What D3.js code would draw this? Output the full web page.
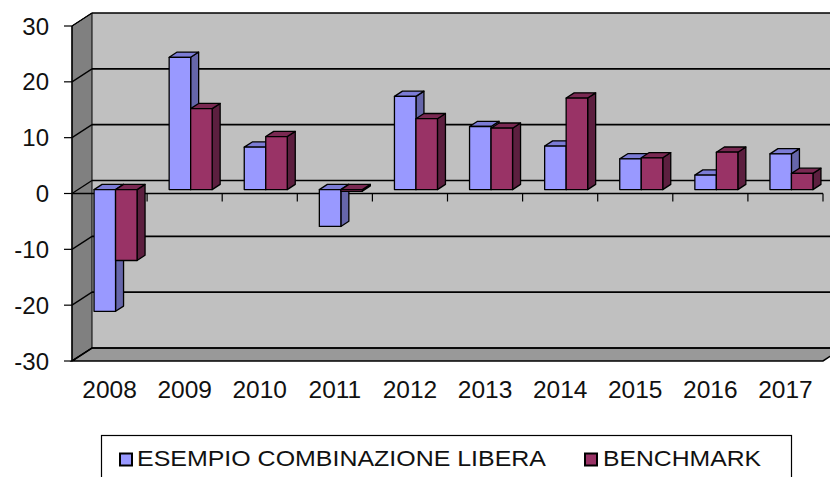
<!DOCTYPE html>
<html>
<head>
<meta charset="utf-8">
<script src="https://cdn.jsdelivr.net/npm/d3@7"></script>
<style>
  body { margin: 0; background: #fff; }
  svg { display: block; font-family: "Liberation Sans", Arial, sans-serif; }
</style>
</head>
<body>
<svg id="chart" width="830" height="477"></svg>
<script>
// data
var years = ["2008", "2009", "2010", "2011", "2012", "2013", "2014", "2015", "2016", "2017"];
var seriesNames = ["ESEMPIO COMBINAZIONE LIBERA", "BENCHMARK"];
var esempio = [-21.8, 23.7, 7.6, -6.6, 16.7, 11.3, 7.8, 5.5, 2.6, 6.4];
var benchmark = [-12.7, 14.5, 9.5, -0.3, 12.7, 11.0, 16.4, 5.7, 6.7, 2.9];
var yTicks = [-30, -20, -10, 0, 10, 20, 30];

var faceColors = ["#9999ff", "#993366"];
var topColors = ["#7c7cd6", "#7a2952"];
var sideColors = ["#6666aa", "#5c1f3f"];

drawChart();

function drawChart() {
    var svg = d3.select("#chart");

    // 3d offsets
    var depthX = 20, depthY = -13;
    var barF0 = 0.3, barF1 = 0.7;

    var x = d3.scaleBand().domain(years).range([72, 823]);
    var y = d3.scaleLinear().domain([-30, 30]).range([361, 26]);
    var xs = d3.scaleBand().domain([0, 1]).range([-21.5, 21.5]);

    var plotLeft = 72, plotRight = 823;
    var plotTop = y(30), plotBottom = y(-30);

    // back wall
    svg.append("polygon")
        .attr("points", [[plotLeft + depthX, plotTop + depthY], [plotRight + depthX + 20, plotTop + depthY],
            [plotRight + depthX + 20, plotBottom + depthY], [plotLeft + depthX, plotBottom + depthY]].join(" "))
        .attr("fill", "#c0c0c0");

    // side wall
    svg.append("polygon")
        .attr("points", [[plotLeft, plotTop], [plotLeft + depthX, plotTop + depthY],
            [plotLeft + depthX, plotBottom + depthY], [plotLeft, plotBottom]].join(" "))
        .attr("fill", "#808080")
        .attr("stroke", "#000").attr("stroke-width", 1);

    // floor
    svg.append("polygon")
        .attr("points", [[plotLeft, plotBottom], [plotLeft + depthX, plotBottom + depthY],
            [plotRight + depthX, plotBottom + depthY], [plotRight, plotBottom]].join(" "))
        .attr("fill", "#999999")
        .attr("stroke", "#000").attr("stroke-width", 1.5);

    // gridlines on back wall + side wall diagonals
    yTicks.forEach(function (t) {
        svg.append("line")
            .attr("x1", plotLeft + depthX).attr("x2", 840)
            .attr("y1", y(t) + depthY).attr("y2", y(t) + depthY)
            .attr("stroke", "#000").attr("stroke-width", 1.6);
        svg.append("line")
            .attr("x1", plotLeft).attr("x2", plotLeft + depthX)
            .attr("y1", y(t)).attr("y2", y(t) + depthY)
            .attr("stroke", "#000").attr("stroke-width", 1.3);
    });

    // front zero line with category ticks
    svg.append("line")
        .attr("x1", plotLeft).attr("x2", plotRight)
        .attr("y1", y(0)).attr("y2", y(0))
        .attr("stroke", "#000").attr("stroke-width", 1.3);
    years.forEach(function (yr) {
        var bx = x(yr) + x.bandwidth();
        svg.append("line")
            .attr("x1", bx).attr("x2", bx)
            .attr("y1", y(0)).attr("y2", y(0) + 8)
            .attr("stroke", "#000").attr("stroke-width", 1.2);
    });

    // y axis
    svg.append("line")
        .attr("x1", plotLeft).attr("x2", plotLeft)
        .attr("y1", plotTop).attr("y2", plotBottom)
        .attr("stroke", "#000").attr("stroke-width", 1.3);
    yTicks.forEach(function (t) {
        svg.append("line")
            .attr("x1", plotLeft - 8).attr("x2", plotLeft)
            .attr("y1", y(t)).attr("y2", y(t))
            .attr("stroke", "#000").attr("stroke-width", 1.2);
        svg.append("text")
            .attr("x", 49).attr("y", y(t))
            .attr("dy", "0.36em")
            .attr("text-anchor", "end")
            .attr("font-size", 24)
            .attr("fill", "#111")
            .text(t);
    });

    // bars
    var bx0 = depthX * barF0, by0 = depthY * barF0;
    var ddx = depthX * (barF1 - barF0), ddy = depthY * (barF1 - barF0);
    var allSeries = [esempio, benchmark];

    years.forEach(function (yr, i) {
        var cx = x(yr) + x.bandwidth() / 2 + bx0;
        allSeries.forEach(function (vals, j) {
            var v = vals[i];
            var x0 = cx + xs(j), x1 = x0 + xs.bandwidth();
            var yt = y(Math.max(v, 0)) + by0, yb = y(Math.min(v, 0)) + by0;
            var g = svg.append("g").attr("stroke", "#000").attr("stroke-width", 1.3)
                .attr("stroke-linejoin", "round");
            // side
            g.append("polygon")
                .attr("points", [[x1, yt], [x1 + ddx, yt + ddy], [x1 + ddx, yb + ddy], [x1, yb]].join(" "))
                .attr("fill", sideColors[j]);
            // top
            g.append("polygon")
                .attr("points", [[x0, yt], [x0 + ddx, yt + ddy], [x1 + ddx, yt + ddy], [x1, yt]].join(" "))
                .attr("fill", topColors[j]);
            // front
            g.append("rect")
                .attr("x", x0).attr("y", yt)
                .attr("width", x1 - x0).attr("height", Math.max(yb - yt, 0.5))
                .attr("fill", faceColors[j]);
        });
    });

    // category labels
    years.forEach(function (yr) {
        svg.append("text")
            .attr("x", x(yr) + x.bandwidth() / 2)
            .attr("y", 398)
            .attr("text-anchor", "middle")
            .attr("font-size", 24.5)
            .attr("fill", "#111")
            .text(yr);
    });

    // legend
    svg.append("rect")
        .attr("x", 101.5).attr("y", 435.5)
        .attr("width", 690).attr("height", 60)
        .attr("fill", "#fff").attr("stroke", "#000").attr("stroke-width", 1.2);

    var legendPos = [{ sx: 120, tx: 137, len: 409 }, { sx: 585, tx: 603, len: 158 }];
    seriesNames.forEach(function (name, j) {
        svg.append("rect")
            .attr("x", legendPos[j].sx).attr("y", 453.5)
            .attr("width", 12).attr("height", 12)
            .attr("fill", faceColors[j])
            .attr("stroke", "#000").attr("stroke-width", 2);
        svg.append("text")
            .attr("x", legendPos[j].tx).attr("y", 466)
            .attr("font-size", 22)
            .attr("textLength", legendPos[j].len)
            .attr("lengthAdjust", "spacingAndGlyphs")
            .attr("fill", "#111")
            .text(name);
    });
}
</script>
</body>
</html>
